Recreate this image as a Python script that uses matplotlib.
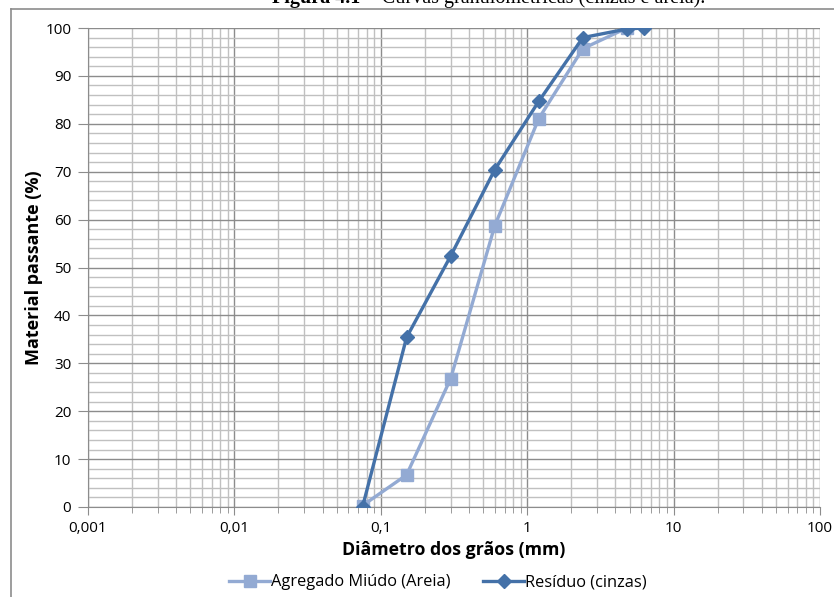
import numpy as np
import matplotlib.pyplot as plt
from matplotlib.ticker import FixedLocator, NullFormatter, LogLocator

# Curvas granulométricas
areia_d = [0.075, 0.15, 0.3, 0.6, 1.2, 2.4, 4.8]
areia_p = [0.3, 6.7, 26.8, 58.7, 81.1, 95.7, 100.0]
cinzas_d = [0.075, 0.15, 0.3, 0.6, 1.2, 2.4, 4.8, 6.3]
cinzas_p = [0.0, 35.4, 52.4, 70.4, 84.7, 98.0, 99.8, 100.0]

x_ticks = [0.001, 0.01, 0.1, 1, 10, 100]
x_labels = ["0,001", "0,01", "0,1", "1", "10", "100"]

plt.rcParams['font.family'] = ['Open Sans', 'DejaVu Sans']

fig = plt.figure(figsize=(8.34, 5.97), dpi=100)
ax = fig.add_axes([88 / 834, 1 - 507 / 597, (820 - 88) / 834, (507 - 28) / 597])

ax.plot(areia_d, areia_p, color='#93aad3', lw=2.4, marker='s', markersize=9,
        label="Agregado Miúdo (Areia)", zorder=3)
ax.plot(cinzas_d, cinzas_p, color='#4471a8', lw=2.4, marker='D', markersize=7.5,
        label="Resíduo (cinzas)", zorder=4)

ax.set_xscale('log')
ax.set_xlim(0.001, 100)
ax.set_ylim(0, 100)
ax.set_xticks(x_ticks)
ax.set_xticklabels(x_labels)
ax.xaxis.set_minor_locator(LogLocator(base=10, subs=np.arange(2, 10)))
ax.xaxis.set_minor_formatter(NullFormatter())
ax.set_yticks(np.arange(0, 101, 10))
ax.yaxis.set_minor_locator(FixedLocator(np.arange(0, 101, 2)))

ax.grid(True, which='major', color='#8c8c8c', lw=1.0)
ax.grid(True, which='minor', color='#c0c0c0', lw=1.0)
ax.set_axisbelow(True)

for s in ['top', 'right']:
    ax.spines[s].set_visible(False)
ax.spines['left'].set_color('#8c8c8c')
ax.spines['bottom'].set_color('#8c8c8c')
ax.tick_params(axis='y', which='major', length=7, color='#8c8c8c', labelsize=11, pad=5)
ax.tick_params(axis='y', which='minor', length=0)
ax.tick_params(axis='x', which='major', length=6, color='#8c8c8c', labelsize=11, pad=4)
ax.tick_params(axis='x', which='minor', length=4, color='#8c8c8c')

ax.set_xlabel("Diâmetro dos grãos (mm)", fontsize=12.8, fontweight='bold', labelpad=4)
ax.set_ylabel("Material passante (%)", fontsize=13, fontweight='bold', labelpad=2)

ax.legend(loc='upper center', bbox_to_anchor=(0.478, -0.11), ncol=2, frameon=False,
          fontsize=11.8, handlelength=2.5, columnspacing=2.0, handletextpad=0.05)

# moldura do gráfico
fig.add_artist(plt.Line2D([11 / 834, 11 / 834], [0, 1 - 9 / 597], color='#8c8c8c', lw=1.2))
fig.add_artist(plt.Line2D([11 / 834, 1], [1 - 9 / 597, 1 - 9 / 597], color='#8c8c8c', lw=1.2))

# título cortado no topo
fig.text(272 / 834, 1.003, "Figura 4.1", family='Liberation Serif', fontweight='bold',
         fontsize=14.5, ha='left', va='center')
fig.text(365 / 834, 1.003, " - Curvas granulométricas (cinzas e areia).", family='Liberation Serif',
         fontsize=14.5, ha='left', va='center')

fig.savefig("out.png", dpi=100)
plt.close()
